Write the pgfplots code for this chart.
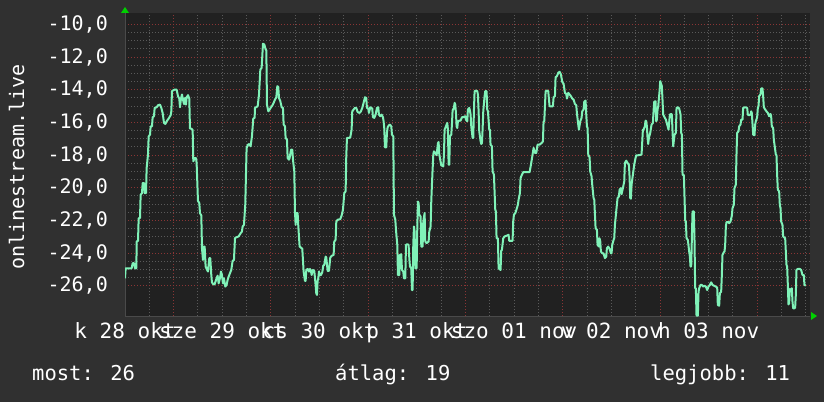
\documentclass[border=0pt]{standalone}
\usepackage{fontspec}
\setmainfont{DejaVu Sans Mono}
\usepackage{pgfplots}
\pgfplotsset{compat=1.18}

\definecolor{outbg}{HTML}{303030}
\definecolor{plotbg}{HTML}{212121}
\definecolor{gridgray}{HTML}{5A5A5A}
\definecolor{gridred}{HTML}{8A3535}
\definecolor{axgray}{HTML}{4A4A4A}
\definecolor{mint}{HTML}{80F2B8}
\definecolor{arrowgreen}{HTML}{00D000}

\begin{document}
\begin{tikzpicture}[x=1pt,y=1pt]
\fill[outbg] (0,0) rectangle (824,402);
\useasboundingbox (0,0) rectangle (824,402);
\begin{axis}[
    at={(125pt,86pt)}, anchor=south west,
    scale only axis, width=685pt, height=303pt,
    xmin=0, xmax=169, ymin=-27.85, ymax=-9.3,
    clip mode=individual,
    axis background/.style={fill=plotbg},
    axis lines*=left,
    axis line style={axgray, line width=1pt},
    tick style={draw=none},
    % red lines every day at noon, grey ones every 6 hours
    xtick={12,36,...,156},
    xticklabels={},
    minor xtick={0,6,18,24,30,42,48,54,66,72,78,90,96,102,114,120,126,138,144,150,162,168},
    extra x ticks={0,24,...,144},
    extra x tick labels={k 28 okt, sze 29 okt, cs 30 okt, p 31 okt, szo 01 nov, v 02 nov, h 03 nov},
    extra x tick style={grid=none},
    ytick={-26,-24,...,-10},
    minor y tick num=3,
    grid=both,
    major grid style={gridred, line width=1pt, dash pattern=on 1pt off 2pt},
    minor grid style={gridgray, line width=1pt, dash pattern=on 1pt off 2pt},
    xticklabel style={font=\fontsize{21}{24}\selectfont, text=white, anchor=base, inner sep=0pt, yshift=-22pt},
    yticklabel style={font=\fontsize{20}{24}\selectfont, text=white, anchor=east, inner sep=0pt, xshift=-17pt},
    /pgf/number format/.cd, fixed, fixed zerofill, precision=1, use comma, assume math mode=true,
]
\addplot[mint, line width=2pt, line join=round] coordinates {
(0.00,-25.54) (0.16,-24.93) (1.64,-24.93) (1.89,-24.62) (2.22,-24.62) (2.47,-24.93) (2.80,-24.93)
(2.88,-23.29) (3.21,-23.25) (3.37,-21.86) (3.70,-21.86) (3.86,-20.43) (4.19,-20.33) (4.36,-19.71)
(4.69,-19.71) (4.85,-20.33) (5.18,-20.33) (5.34,-18.79) (5.67,-17.97) (5.84,-16.85) (6.17,-16.75)
(6.33,-16.24) (6.66,-16.24) (6.82,-15.68) (7.15,-15.62) (7.32,-15.11) (7.81,-15.07) (8.14,-14.95)
(8.63,-14.91) (8.96,-15.11) (9.29,-15.42) (9.62,-16.03) (9.95,-16.09) (10.28,-15.93) (10.77,-15.76)
(11.26,-15.56) (11.43,-15.32) (11.59,-14.09) (11.92,-14.03) (12.25,-13.99) (12.74,-13.99) (13.07,-14.39)
(13.40,-14.54) (13.56,-15.07) (13.81,-14.54) (14.06,-14.29) (14.30,-14.60) (14.55,-14.87) (14.80,-14.50)
(15.04,-14.91) (15.21,-14.46) (15.54,-14.33) (15.86,-14.54) (16.03,-16.38) (16.36,-16.38) (16.69,-16.46)
(16.85,-18.38) (17.18,-18.18) (17.51,-18.18) (17.67,-18.48) (18.00,-20.80) (18.33,-20.94) (18.50,-21.55)
(18.83,-21.70) (18.99,-23.70) (19.24,-24.42) (19.40,-23.60) (19.65,-23.60) (19.89,-24.82) (20.14,-24.97)
(20.47,-25.13) (20.80,-24.31) (21.04,-24.31) (21.29,-25.34) (21.45,-25.79) (21.78,-25.91) (22.11,-25.91)
(22.60,-25.54) (22.85,-25.38) (23.10,-25.85) (23.43,-25.54) (23.67,-25.13) (23.92,-25.34) (24.17,-25.85)
(24.41,-25.54) (24.74,-26.05) (25.07,-25.95) (25.32,-25.64) (25.57,-25.44) (25.90,-25.23) (26.22,-25.03)
(26.55,-24.48) (26.88,-24.42) (27.13,-23.09) (27.38,-23.04) (28.03,-22.98) (28.53,-22.78) (28.85,-22.68)
(29.02,-22.37) (29.35,-22.27) (29.67,-21.04) (30.00,-17.56) (30.33,-17.36) (30.66,-17.32) (30.99,-17.46)
(31.32,-16.85) (31.65,-15.76) (31.98,-15.72)
(32.07,-15.11) (32.73,-15.01) (33.06,-14.29) (33.39,-12.76) (33.71,-12.66) (34.04,-11.18) (34.37,-11.23)
(34.70,-11.53) (34.87,-11.59) (35.03,-14.91) (35.36,-15.32) (35.69,-15.21) (36.02,-15.07) (36.34,-14.97)
(36.67,-14.80) (37.00,-14.60) (37.33,-14.46) (37.58,-13.78) (37.82,-13.84) (37.99,-14.50) (38.32,-14.70)
(38.65,-15.07) (38.97,-15.11) (39.14,-16.13) (39.47,-16.24) (39.63,-16.95) (39.96,-17.05) (40.13,-18.18)
(40.45,-18.28) (40.62,-18.18) (40.95,-17.67) (41.28,-17.67) (41.44,-18.28) (41.77,-19.00) (41.93,-21.45)
(42.10,-22.27) (42.26,-21.55) (42.59,-21.55) (42.76,-22.37) (43.08,-23.60) (43.41,-23.66) (43.74,-23.74)
(44.07,-25.13) (44.40,-25.70) (44.56,-25.70) (44.73,-25.03) (45.06,-24.97) (45.39,-25.13) (45.63,-24.97)
(45.88,-25.09) (46.04,-25.34) (46.37,-25.03) (46.70,-25.09) (46.95,-25.74) (47.19,-26.46) (47.36,-26.56)
(47.52,-25.70) (47.69,-25.54) (47.85,-25.13) (48.10,-25.34) (48.35,-25.34) (48.67,-25.17) (48.92,-24.76)
(49.17,-24.72) (49.50,-24.21) (49.66,-24.27) (49.99,-25.09) (50.32,-25.09) (50.65,-24.27) (50.98,-24.17)
(51.47,-24.11) (51.63,-23.29) (51.96,-23.19) (52.13,-22.06) (52.46,-21.96) (53.11,-21.92) (53.44,-21.70)
(53.77,-21.35) (54.10,-20.33) (54.43,-20.22) (54.59,-18.08) (54.76,-16.95) (55.25,-16.95) (55.58,-16.91)
(55.91,-16.44) (56.07,-15.32) (56.40,-15.21) (56.73,-15.11) (57.06,-15.11) (57.39,-15.36) (57.88,-15.42)
(58.21,-15.32) (58.54,-15.11) (58.87,-14.80) (59.20,-14.46) (59.52,-14.50) (59.69,-15.11) (60.02,-15.15)
(60.18,-15.42) (60.51,-15.07) (61.00,-15.15) (61.17,-15.68) (61.50,-15.72) (61.83,-15.52) (62.16,-15.11)
(62.48,-15.07) (62.65,-15.52) (62.98,-15.62) (63.31,-15.52) (63.64,-15.68) (63.80,-15.93) (63.96,-16.34)
(64.13,-17.52) (64.46,-17.52) (64.62,-16.64) (64.79,-16.30) (65.12,-16.17)
(65.37,-16.13) (65.70,-16.24) (65.86,-16.75) (66.19,-16.85) (66.36,-21.65) (66.69,-21.96) (66.85,-22.57)
(67.18,-23.50) (67.34,-25.34) (67.67,-25.34) (67.84,-24.11) (68.16,-24.07) (68.33,-25.03) (68.66,-25.13)
(68.82,-25.54) (69.15,-25.54) (69.32,-23.50) (69.64,-23.45) (69.97,-23.50) (70.14,-24.31) (70.30,-24.82)
(70.63,-24.93) (70.80,-26.26) (70.96,-26.26) (71.12,-23.50) (71.29,-22.37) (71.45,-22.68) (71.62,-24.93)
(71.95,-24.93) (72.11,-22.47) (72.27,-20.84) (72.44,-20.94) (72.60,-21.65) (72.93,-21.75) (73.10,-23.60)
(73.43,-23.60) (73.59,-22.06) (73.92,-21.55) (74.08,-23.29) (74.41,-23.39) (74.91,-23.29) (75.07,-22.68)
(75.40,-22.37) (75.56,-20.84) (75.73,-19.77) (76.06,-17.97) (76.22,-17.77) (76.55,-17.87) (76.88,-18.01)
(77.21,-17.26) (77.37,-17.20) (77.54,-17.97) (77.70,-18.18) (78.03,-18.63) (78.52,-18.69) (78.69,-17.97)
(78.85,-16.44) (79.02,-16.34) (79.34,-16.13) (79.51,-16.03) (79.67,-16.44) (79.84,-18.59) (80.00,-18.59)
(80.17,-16.85) (80.49,-16.75) (80.66,-16.13) (80.82,-15.27) (81.15,-15.11) (81.32,-14.80) (81.48,-14.91)
(81.65,-15.42) (81.81,-16.24) (81.97,-16.34) (82.14,-15.93) (82.47,-15.89) (82.80,-15.89) (83.13,-15.68)
(83.45,-15.68) (83.95,-15.62) (84.11,-15.83) (84.44,-15.93) (84.60,-15.21) (84.93,-15.11) (85.10,-15.27)
(85.26,-15.52) (85.43,-16.24) (85.76,-16.95) (85.92,-16.95) (86.08,-15.32) (86.25,-14.09) (86.58,-14.05)
(86.91,-14.09) (87.07,-14.29) (87.24,-15.32) (87.40,-16.54) (87.73,-17.15) (87.89,-17.32) (88.06,-17.26)
(88.22,-16.44) (88.39,-15.32) (88.71,-14.39) (88.88,-14.09) (89.21,-14.09) (89.37,-15.21) (89.54,-15.32)
(89.87,-16.44) (90.03,-16.44) (90.19,-17.36) (90.52,-17.46) (90.69,-19.00) (91.02,-19.20) (91.35,-21.35)
(91.51,-21.45) (91.67,-23.09) (92.00,-23.09) (92.17,-24.93) (92.66,-25.03) (92.82,-23.86) (92.99,-23.80)
(93.32,-23.09) (93.65,-22.98) (94.30,-22.92) (94.63,-22.88) (94.80,-23.25) (95.62,-23.25) (95.78,-22.06)
(95.95,-21.65) (96.28,-21.55) (96.44,-21.45) (96.93,-21.04) (97.10,-20.73) (97.43,-20.33) (97.59,-19.41)
(97.92,-19.20) (98.25,-19.04)
(98.67,-19.04) (99.82,-19.04) (100.15,-18.59) (100.48,-18.08) (100.81,-17.56) (101.14,-17.87) (101.47,-17.87)
(101.79,-17.36) (102.29,-17.36) (102.78,-17.26) (103.11,-17.16) (103.27,-15.93) (103.44,-15.93) (103.77,-14.09)
(104.10,-14.05) (104.42,-14.09) (104.75,-15.01) (105.57,-15.01) (105.74,-14.46) (106.07,-14.39) (106.23,-13.23)
(106.56,-13.17) (106.89,-12.96) (107.22,-12.90) (107.55,-13.07) (107.88,-13.52) (108.21,-13.64) (108.53,-14.19)
(108.86,-14.25) (109.03,-14.54) (109.19,-14.39) (109.36,-14.19) (109.69,-14.29) (110.01,-14.39) (110.34,-14.54)
(110.67,-14.60) (111.00,-14.87) (111.33,-14.95) (111.49,-15.42) (111.82,-16.13) (111.99,-16.44) (112.32,-15.93)
(112.64,-15.72) (112.81,-15.32) (113.14,-15.21) (113.30,-14.74) (113.63,-14.66) (113.80,-15.52) (113.96,-16.24)
(114.13,-16.34) (114.29,-17.97) (114.62,-18.14) (114.78,-19.00) (115.11,-19.30) (115.27,-19.81) (115.60,-20.63)
(115.77,-20.73) (116.10,-22.47) (116.43,-22.57) (116.59,-23.50) (116.92,-23.60) (117.08,-23.09) (117.25,-23.29)
(117.41,-23.90) (117.74,-24.01) (118.07,-24.01) (118.40,-24.31) (118.73,-24.21) (118.89,-23.70) (119.22,-23.60)
(119.55,-23.74) (119.88,-24.01) (120.04,-24.01) (120.21,-23.50) (120.54,-23.19) (120.70,-23.09) (120.87,-22.27)
(121.19,-21.45) (121.52,-20.63) (121.85,-20.53) (122.02,-20.12) (122.34,-20.02) (122.51,-20.39) (122.84,-20.02)
(123.17,-19.61) (123.33,-18.48) (123.66,-18.34) (123.99,-18.48) (124.32,-18.59) (124.48,-19.30) (124.65,-20.63)
(124.81,-20.67) (124.98,-19.81) (125.30,-19.20) (125.63,-18.59) (125.96,-18.18) (126.13,-18.01) (126.62,-18.01)
(127.44,-17.97) (127.77,-16.44) (127.93,-16.44) (128.26,-16.24) (128.43,-15.89) (128.59,-15.93) (128.76,-16.24)
(128.92,-16.95) (129.08,-17.32) (129.25,-16.95) (129.58,-16.64) (129.91,-16.13) (130.24,-16.03) (130.40,-15.32)
(130.56,-14.74) (130.89,-14.70) (131.06,-15.93) (131.22,-15.83) (131.39,-15.21) (131.55,-15.01) (131.88,-14.09)
(132.05,-13.47)
(132.45,-13.78) (132.78,-15.52) (133.11,-15.68) (133.44,-15.83) (133.77,-16.13) (134.10,-16.44) (134.43,-15.52)
(134.76,-15.48) (134.92,-15.52) (135.08,-16.54) (135.25,-17.46) (135.58,-16.75) (135.91,-16.64) (136.07,-15.11)
(136.40,-15.07) (136.73,-15.15) (137.06,-15.52) (137.22,-16.64) (137.39,-16.75) (137.55,-19.20) (137.88,-19.24)
(138.21,-22.02) (138.37,-22.06) (138.54,-23.09) (138.86,-23.19) (139.19,-23.90) (139.36,-24.21) (139.52,-24.82)
(139.69,-24.82) (139.85,-23.09) (140.02,-21.45) (140.34,-21.45) (140.51,-23.29) (140.67,-26.15) (140.84,-26.15)
(141.00,-27.83) (141.33,-27.83) (141.50,-26.36) (141.66,-26.15) (141.99,-25.95) (142.32,-25.95) (142.65,-26.05)
(142.97,-25.99) (143.30,-26.05) (143.63,-26.26) (143.96,-26.05) (144.29,-25.95) (144.62,-25.79) (144.95,-25.95)
(145.28,-25.99) (145.77,-26.05) (146.10,-26.11) (146.26,-27.18) (146.59,-27.22) (146.76,-26.46) (147.08,-26.36)
(147.25,-25.34) (147.41,-24.11) (147.74,-23.94) (147.91,-23.90) (148.07,-23.50) (148.24,-22.37) (148.40,-22.10)
(148.89,-22.10) (149.06,-22.17) (149.39,-22.06) (149.72,-21.70) (149.88,-21.25) (150.21,-21.04) (150.37,-20.02)
(150.70,-19.81) (150.87,-17.87) (151.03,-16.64) (151.36,-16.54) (151.52,-16.24) (151.85,-16.13) (152.02,-15.83)
(152.35,-15.83) (152.51,-15.11) (153.00,-15.07) (153.50,-15.11) (153.66,-15.52) (153.99,-15.56) (154.32,-15.52)
(154.48,-15.32) (154.65,-15.42) (154.98,-16.75) (155.30,-16.79) (155.47,-16.13) (155.63,-15.93) (155.96,-15.68)
(156.13,-15.11) (156.29,-15.01) (156.46,-14.39) (156.78,-14.29) (156.95,-13.92) (157.28,-13.92) (157.44,-14.39)
(157.61,-15.07) (157.94,-15.21) (158.26,-15.32) (158.59,-15.42) (158.92,-15.62) (159.25,-15.48) (159.41,-15.62)
(159.58,-16.24) (159.91,-16.34) (160.07,-17.05) (160.24,-17.36) (160.57,-17.97) (160.73,-18.01) (160.89,-19.20)
(161.06,-20.12) (161.39,-20.22) (161.55,-21.04) (161.72,-21.25) (161.88,-22.06) (162.21,-22.27) (162.37,-22.98)
(162.87,-23.09) (163.20,-24.72) (163.36,-24.82) (163.53,-25.95) (163.69,-27.14) (163.85,-27.07) (164.02,-26.19)
(164.18,-26.36) (164.51,-26.15) (164.68,-26.97) (164.84,-27.38) (165.17,-27.38) (165.33,-27.34) (165.50,-26.56)
(165.66,-25.03) (165.99,-24.97) (166.48,-24.97) (166.81,-25.03) (167.14,-25.34) (167.47,-25.34) (167.63,-25.95)
(167.96,-25.99)
};
\end{axis}
% axis arrows, outside the plot clip
\fill[arrowgreen] (121,389) -- (129,389) -- (125,395) -- cycle;
\fill[arrowgreen] (811,82) -- (811,90) -- (817,86) -- cycle;
\begin{scope}[every node/.style={inner sep=0pt, text=white, font=\fontsize{20.5}{24}\selectfont}]
\node[anchor=base west] at (32,22) {most: 26};
\node[anchor=base west] at (335,22) {átlag: 19};
\node[anchor=base west] at (650,22) {legjobb: 11};
\node[anchor=base, rotate=90, font=\fontsize{20}{24}\selectfont] at (24,235) {onlinestream.live};
\end{scope}
\end{tikzpicture}
\end{document}
